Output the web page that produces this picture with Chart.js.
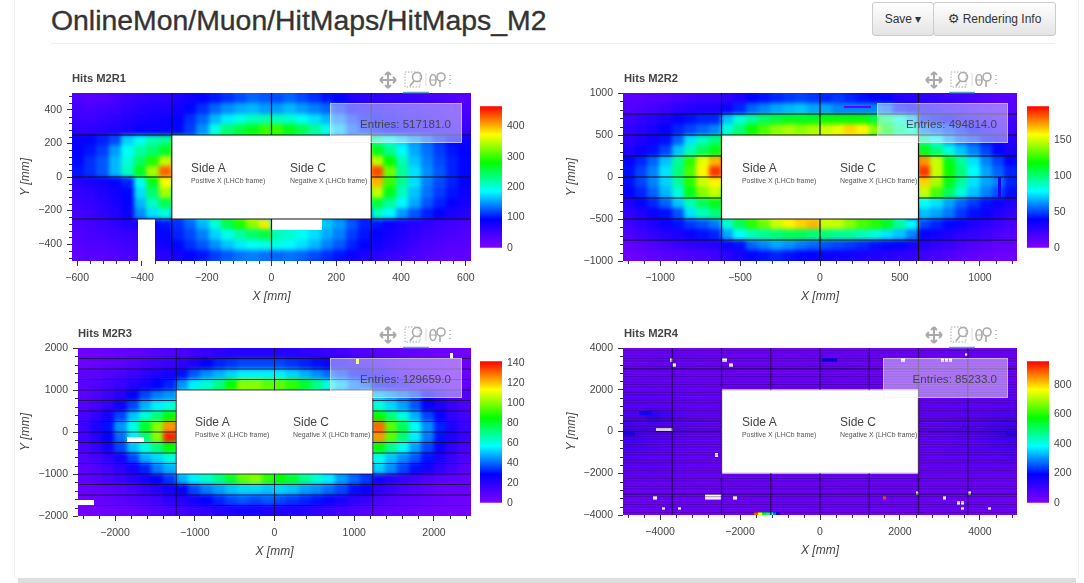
<!DOCTYPE html>
<html>
<head>
<meta charset="utf-8">
<script src="https://cdn.jsdelivr.net/npm/chart.js@4/dist/chart.umd.min.js"></script>
<style>
html, body { margin: 0; padding: 0; width: 1084px; height: 583px; overflow: hidden; background: #fff; }
body { font-family: "Liberation Sans", sans-serif; color: #444; position: relative; }
canvas { position: absolute; }
.abs { position: absolute; white-space: nowrap; }
#pageTitle { left: 51px; top: 2px; font-size: 28.4px; line-height: 36px; color: #333; -webkit-text-stroke: .35px #333; }
#rule { left: 51px; top: 43px; width: 1004px; height: 1px; background: #eee; }
#edgeL { left: 14px; top: 0; width: 1px; height: 578px; background: #eee; }
#edgeR { left: 1078px; top: 0; width: 1px; height: 578px; background: #eee; }
#edgeB { left: 18px; top: 578px; width: 1058px; height: 5px; background: #ddd; }
.btn { top: 2px; height: 32px; line-height: 32px; text-align: center; font-size: 12px; color: #333;
  border: 1px solid #ccc; border-radius: 3px; background: linear-gradient(#fff, #e4e4e4); box-sizing: content-box; }
.panelTitle { font-size: 11.2px; font-weight: bold; color: #444; }
.sideBig { font-size: 12px; color: #444; }
.sideSmall { font-size: 6.9px; color: #555; }
.entries { background: rgba(255,255,255,.45); border: 1px solid rgba(240,240,240,.5); box-sizing: border-box;
  text-align: right; padding-right: 10px; font-size: 11.6px; color: #444; }
</style>
</head>
<body>
<div class="abs" id="edgeL"></div>
<div class="abs" id="edgeR"></div>
<div class="abs" id="edgeB"></div>
<div class="abs" id="pageTitle">OnlineMon/Muon/HitMaps/HitMaps_M2</div>
<div class="abs" id="rule"></div>
<div class="abs btn" style="left:872px;width:60px">Save ▾</div>
<div class="abs btn" style="left:933px;width:121px"><span style="font-family:'DejaVu Sans';font-size:13px">⚙</span> Rendering Info</div>

<script>
const _ = null;

// R1 hit map, rows from top to bottom, 32 columns
const r1Values = [
[35,30,30,40,50,55,60,60,70,80,90,100,110,120,130,125,120,130,120,110,100,90,70,60,60,55,55,50,45,40,35,30],
[45,40,45,50,60,65,70,70,80,95,110,130,145,155,160,150,150,160,150,140,130,110,90,80,75,70,65,60,55,50,45,40],
[50,50,55,60,70,75,80,85,90,110,130,160,180,195,210,215,210,205,190,175,160,140,115,100,90,80,75,70,65,60,50,45],
[60,60,65,70,75,85,85,85,95,115,145,195,235,255,270,300,300,270,250,225,195,165,130,110,100,90,85,75,70,65,60,50],
[85,95,105,120,170,190,215,225,_,_,_,_,_,_,_,_,_,_,_,_,_,_,_,_,220,195,170,150,130,110,95,85],
[90,100,115,150,190,220,240,265,_,_,_,_,_,_,_,_,_,_,_,_,_,_,_,_,270,230,185,155,135,115,100,90],
[95,110,125,160,200,245,290,350,_,_,_,_,_,_,_,_,_,_,_,_,_,_,_,_,350,280,215,165,140,120,105,95],
[100,110,125,160,210,270,340,430,_,_,_,_,_,_,_,_,_,_,_,_,_,_,_,_,440,320,225,175,145,125,105,95],
[65,75,80,90,105,190,270,370,_,_,_,_,_,_,_,_,_,_,_,_,_,_,_,_,400,300,225,175,140,120,105,90],
[55,60,70,80,95,175,240,340,_,_,_,_,_,_,_,_,_,_,_,_,_,_,_,_,350,270,210,165,135,115,100,85],
[50,55,65,75,90,160,210,250,_,_,_,_,_,_,_,_,_,_,_,_,_,_,_,_,260,225,185,155,125,105,90,80],
[45,50,60,70,85,145,175,200,_,_,_,_,_,_,_,_,_,_,_,_,_,_,_,_,210,185,150,125,105,90,75,70],
[40,45,50,60,70,75,90,100,110,130,160,200,250,290,330,380,190,180,175,170,165,150,125,105,100,85,75,65,60,50,45,40],
[35,40,45,50,55,60,80,95,105,120,140,170,195,220,240,255,215,205,190,175,155,140,115,100,90,80,70,60,50,45,40,35],
[30,35,35,40,45,50,70,80,95,110,125,145,165,180,190,195,195,185,175,160,140,125,105,90,80,70,60,50,40,35,30,30],
[25,30,30,35,40,45,60,65,80,90,100,115,125,135,140,135,130,135,130,120,110,100,85,75,65,55,50,40,35,30,25,25]
];
const r1Missing = [[-410,-500,-360,-250],[0,-312,154,-250]];
const r1Patches = [];
const r1XLabels = [-600,-400,-200,0,200,400,600];
const r1YLabels = [-400,-200,0,200,400];
const r1BarLabels = [0,100,200,300,400];
const r1HLines = [-250,0,250];
const r1VLines = [-308,0,308];

const r2Values = [
[12,12,14,15,18,20,22,22,25,30,38,42,45,48,50,48,45,48,45,42,40,38,30,28,25,24,22,20,18,15,12,12],
[14,16,18,22,26,28,30,30,35,45,55,60,65,68,70,65,65,60,60,60,60,55,42,38,32,30,26,24,20,18,15,14],
[20,24,28,32,38,42,45,45,70,85,95,105,110,115,115,115,120,120,120,120,110,100,85,70,45,42,38,32,28,24,20,18],
[24,28,32,38,45,50,55,60,85,100,120,130,140,145,140,145,150,155,165,160,140,115,95,85,60,55,50,45,38,30,26,22],
[25,30,35,42,55,75,90,100,_,_,_,_,_,_,_,_,_,_,_,_,_,_,_,_,95,80,65,55,50,42,35,28],
[30,36,42,50,70,90,105,115,_,_,_,_,_,_,_,_,_,_,_,_,_,_,_,_,115,100,85,70,60,50,40,32],
[38,45,55,70,95,125,155,170,_,_,_,_,_,_,_,_,_,_,_,_,_,_,_,_,175,150,115,95,75,60,50,40],
[42,50,60,75,100,130,160,190,_,_,_,_,_,_,_,_,_,_,_,_,_,_,_,_,190,150,120,100,80,65,55,45],
[42,50,60,72,95,125,150,160,_,_,_,_,_,_,_,_,_,_,_,_,_,_,_,_,165,145,115,95,75,65,60,45],
[38,45,55,68,85,115,140,150,_,_,_,_,_,_,_,_,_,_,_,_,_,_,_,_,150,130,105,85,70,60,52,42],
[30,38,45,55,70,90,105,115,_,_,_,_,_,_,_,_,_,_,_,_,_,_,_,_,80,75,65,55,48,42,36,30],
[25,30,36,42,52,75,90,100,_,_,_,_,_,_,_,_,_,_,_,_,_,_,_,_,70,65,58,48,42,36,30,25],
[20,25,30,36,42,48,52,58,85,105,125,135,150,160,165,170,150,150,140,130,125,115,95,80,50,45,40,36,30,26,22,18],
[16,20,24,28,32,36,42,45,65,80,90,95,100,105,105,100,100,95,95,90,85,75,70,60,38,34,30,26,24,20,16,14],
[10,12,15,18,22,24,26,28,35,42,55,60,65,62,58,55,52,50,48,45,42,40,38,32,28,24,22,18,15,12,10,10],
[6,8,10,12,14,16,18,20,26,32,40,42,45,42,40,38,36,35,35,32,30,28,26,24,20,18,15,12,10,8,6,6]
];
const r2Missing = [];
const r2Patches = [[156,825,313,845,10],[1115,-230,1130,0,32]];
const r2XLabels = [-1000,-500,0,500,1000];
const r2YLabels = [-1000,-500,0,500,1000];
const r2BarLabels = [0,50,100,150];
const r2HLines = [-750,-500,-250,0,250,500,750];
const r2VLines = [-616,0,616];

const r3Values = [
[4,4,5,6,7,8,10,11,12,14,16,18,20,20,20,20,20,20,18,18,16,14,12,10,9,8,7,6,5,4,4,3],
[5,6,7,8,10,12,14,16,18,22,28,32,34,36,36,36,36,34,32,30,26,24,20,17,14,12,10,8,7,6,5,4],
[7,8,10,12,15,18,22,24,30,38,44,48,52,55,55,55,55,52,48,44,40,35,30,26,22,18,14,12,10,8,6,5],
[8,10,13,16,20,24,28,32,45,55,62,70,85,100,100,95,95,90,80,70,60,50,42,38,30,24,20,15,12,10,8,6],
[8,11,15,20,28,36,42,45,_,_,_,_,_,_,_,_,_,_,_,_,_,_,_,_,48,44,40,36,28,20,14,10],
[10,13,18,25,36,48,55,60,_,_,_,_,_,_,_,_,_,_,_,_,_,_,_,_,60,52,46,38,28,22,16,12],
[13,18,24,36,50,62,72,85,_,_,_,_,_,_,_,_,_,_,_,_,_,_,_,_,85,72,60,48,36,26,18,14],
[15,22,30,45,60,80,100,125,_,_,_,_,_,_,_,_,_,_,_,_,_,_,_,_,130,95,75,58,44,32,22,16],
[14,20,28,40,55,72,100,138,_,_,_,_,_,_,_,_,_,_,_,_,_,_,_,_,125,95,72,55,42,30,22,16],
[12,17,24,36,50,60,72,85,_,_,_,_,_,_,_,_,_,_,_,_,_,_,_,_,85,70,58,46,36,26,18,13],
[10,13,18,24,36,48,52,60,_,_,_,_,_,_,_,_,_,_,_,_,_,_,_,_,58,50,44,38,30,22,16,11],
[8,10,14,18,24,32,42,48,_,_,_,_,_,_,_,_,_,_,_,_,_,_,_,_,52,44,36,30,24,18,13,9],
[7,9,12,15,19,24,28,34,48,55,62,70,80,95,100,90,85,80,70,62,55,46,40,35,24,20,16,13,10,8,7,6],
[5,6,8,10,13,16,20,24,28,36,42,46,50,52,52,50,52,50,46,44,40,36,30,26,18,15,12,10,8,6,5,5],
[4,5,6,8,10,12,14,18,20,24,28,32,36,38,36,38,36,34,32,30,26,22,18,16,12,10,8,7,6,5,4,4],
[3,3,4,5,6,8,10,12,14,16,18,20,22,24,24,22,22,22,20,18,16,14,12,10,8,7,6,5,4,3,3,3]
];
const r3Missing = [[-1848,-230,-1647,-120],[-2464,-1740,-2274,-1625],[2205,1750,2235,1875]];
const r3Patches = [[1025,1625,1050,1750,110]];
const r3XLabels = [-2000,-1000,0,1000,2000];
const r3YLabels = [-2000,-1000,0,1000,2000];
const r3BarLabels = [0,20,40,60,80,100,120,140];
const r3HLines = [-1750,-1500,-1250,-1000,-750,-500,-250,0,250,500,750,1000,1250,1500,1750];
const r3VLines = [-1232,0,1232];

const r4Values = [
[25,25,25,28,28,28,26,25,25,25,25,25,25,25,25,26,28,30,28,26,25,25,25,25,25,25,25,25,25,25,25,25],
[30,32,35,35,32,30,28,28,25,25,25,26,26,25,26,28,30,32,30,28,26,25,25,25,25,25,25,25,26,26,26,26],
[32,32,34,34,32,30,28,28,26,26,25,25,25,25,26,26,28,28,28,26,26,26,26,25,26,26,28,28,28,28,28,28],
[35,36,38,36,34,32,30,30,28,28,28,28,28,28,28,28,28,28,28,28,28,28,28,28,28,28,30,30,32,32,32,32],
[50,48,45,42,40,38,36,34,_,_,_,_,_,_,_,_,_,_,_,_,_,_,_,_,34,36,38,40,40,42,44,46],
[58,55,50,48,42,40,38,36,_,_,_,_,_,_,_,_,_,_,_,_,_,_,_,_,38,40,42,46,42,44,48,52],
[70,70,120,90,60,48,42,40,_,_,_,_,_,_,_,_,_,_,_,_,_,_,_,_,42,46,50,50,52,60,68,72],
[80,70,68,60,55,50,45,42,_,_,_,_,_,_,_,_,_,_,_,_,_,_,_,_,42,48,54,60,60,70,85,95],
[95,85,72,60,52,48,44,42,_,_,_,_,_,_,_,_,_,_,_,_,_,_,_,_,42,46,52,58,62,72,90,100],
[80,70,62,54,48,44,42,40,_,_,_,_,_,_,_,_,_,_,_,_,_,_,_,_,40,44,48,52,56,64,72,80],
[60,54,48,44,40,38,38,36,_,_,_,_,_,_,_,_,_,_,_,_,_,_,_,_,36,38,40,42,46,50,55,60],
[48,46,50,46,38,34,32,32,_,_,_,_,_,_,_,_,_,_,_,_,_,_,_,_,32,34,36,38,40,42,44,46],
[34,36,38,36,32,30,28,28,30,30,30,32,32,32,32,32,30,30,28,28,28,28,28,28,28,28,28,30,30,30,30,30],
[30,30,30,30,28,28,26,26,28,28,28,30,30,30,30,30,28,28,26,26,26,26,26,26,26,26,26,26,26,26,26,26],
[26,26,26,26,26,26,26,25,25,25,26,26,28,28,28,28,26,26,26,26,26,25,25,25,25,25,25,25,25,25,25,25],
[24,24,24,24,24,24,24,24,24,24,26,26,28,28,28,26,26,24,24,24,24,24,24,24,24,24,24,24,24,24,24,24]
];
const r4Missing = [[-3750,3375,-3690,3500],[-3680,3125,-3620,3250],[-2450,3375,-2350,3500],[-2260,3125,-2200,3250],
  [2050,3375,2110,3500],[3045,3375,3095,3500],[3135,3375,3185,3500],[3245,3375,3295,3500],[3635,3625,3690,3750],
  [-4100,32,-3700,157],[-2610,-1180,-2560,-1060],[-2870,-3250,-2470,-3030],[-4155,-3250,-4100,-3125],[-2155,-3250,-2100,-3125],
  [-3945,-3750,-3895,-3625],[-3535,-3750,-3485,-3625],[2410,-3000,2460,-2875],[3705,-3000,3755,-2875],[3085,-3250,3135,-3125],
  [3435,-3500,3485,-3375],[3535,-3500,3585,-3375],[3535,-3750,3585,-3625],[4212,-3750,4262,-3625]];
const r4Patches = [[75,3375,408,3500,180],[-4510,812,-4220,937,170],[-4928,-187,-4640,-62,150],[4660,-187,4928,-62,130],
  [1595,-3250,1645,-3125,900],[-1650,-4000,-1530,-3875,900],[-1530,-4000,-1450,-3875,760],[-1450,-4000,-1330,-3875,560],
  [-1330,-4000,-1250,-3875,500],[-1250,-4000,-1170,-3875,400],[-1170,-4000,-1090,-3875,280],[-1090,-4000,-1010,-3875,170]];
const r4XLabels = [-4000,-2000,0,2000,4000];
const r4YLabels = [-4000,-2000,0,2000,4000];
const r4BarLabels = [0,200,400,600,800];
const r4HLines = [-3875,-3750,-3625,-3500,-3375,-3250,-3125,-2875,-2750,-2625,-2500,-2375,-2250,-2125,-2000,-1875,-1750,-1625,-1500,-1375,-1250,-1125,-1000,-875,-750,-625,-500,-375,-250,-125,125,250,375,625,750,875,1000,1125,1250,1375,1500,1625,1750,1875,2000,2125,2250,2375,2500,2625,2750,2875,3125,3250,3375,3500,3625,3750,3875];
const r4StrongLines = [-3000,0,500,3000];
const r4VLines = [-3696,-2464,-1232,0,1232,2464,3696];

const paletteStops = [[0,'#8000ff'],[.2,'#0000ff'],[.4,'#00ffff'],[.6,'#00ff00'],[.8,'#ffff00'],[1,'#ff0000']];

function colorFor(f) {
    f = Math.max(0, Math.min(1, f));
    for (let i = 1; i < paletteStops.length; i++) {
        if (f <= paletteStops[i][0]) {
            const [f0, c0] = paletteStops[i - 1];
            const [f1, c1] = paletteStops[i];
            const k = (f - f0) / (f1 - f0);
            const ch = n => Math.round(parseInt(c0.substr(n, 2), 16) * (1 - k) + parseInt(c1.substr(n, 2), 16) * k);
            return `rgb(${ch(1)},${ch(3)},${ch(5)})`;
        }
    }
    return '#ff0000';
}

// paints the cell rectangles from the dataset points, through the chart scales
const heatCells = {
    id: 'heatCells',
    beforeDatasetsDraw(chart, args, opts) {
        const { ctx, chartArea: area, scales: { x, y } } = chart;
        const rect = (c, x0, y0, x1, y1) => {
            const l = Math.floor(x.getPixelForValue(x0)), r = Math.ceil(x.getPixelForValue(x1));
            const t = Math.floor(y.getPixelForValue(y1)), b = Math.ceil(y.getPixelForValue(y0));
            c.fillRect(l, t, r - l, b - t);
        };

        // cells go on a spare canvas first, the blur softens the coarse grid
        const off = document.createElement('canvas');
        off.width = chart.canvas.width;
        off.height = chart.canvas.height;
        const o = off.getContext('2d');
        const cells = chart.data.datasets[0].data;
        cells.forEach(p => {
            o.fillStyle = colorFor(p.v / opts.max);
            rect(o, p.x - p.w * 1.5, p.y - p.h * 1.5, p.x + p.w * 1.5, p.y + p.h * 1.5);
        });
        cells.forEach(p => {
            o.fillStyle = colorFor(p.v / opts.max);
            rect(o, p.x - p.w / 2, p.y - p.h / 2, p.x + p.w / 2, p.y + p.h / 2);
        });

        ctx.save();
        ctx.beginPath();
        ctx.rect(area.left, area.top, area.width, area.height);
        ctx.clip();
        ctx.filter = `blur(${opts.blur}px)`;
        ctx.drawImage(off, 0, 0);
        ctx.filter = 'none';
        opts.patches.forEach(m => {
            ctx.fillStyle = colorFor(m[4] / opts.max);
            rect(ctx, m[0], m[1], m[2], m[3]);
        });
        ctx.fillStyle = '#fff';
        opts.missing.forEach(m => rect(ctx, m[0], m[1], m[2], m[3]));
        rect(ctx, -opts.holeX, -opts.holeY, opts.holeX, opts.holeY);
        ctx.restore();
    },
    afterDraw(chart) {
        // shorter minor ticks
        const { ctx, chartArea: area, scales: { x, y } } = chart;
        ctx.save();
        ctx.strokeStyle = '#333';
        ctx.lineWidth = 1;
        ctx.beginPath();
        x.ticks.forEach(t => {
            if (!t.major) {
                const px = Math.round(x.getPixelForValue(t.value)) + .5;
                ctx.moveTo(px, area.bottom);
                ctx.lineTo(px, area.bottom + 3);
            }
        });
        y.ticks.forEach(t => {
            if (!t.major) {
                const py = Math.round(y.getPixelForValue(t.value)) + .5;
                ctx.moveTo(area.left, py);
                ctx.lineTo(area.left - 3, py);
            }
        });
        ctx.stroke();
        ctx.restore();
    }
};

function buildCells(values, xMax, yMax) {
    const rows = values.length, cols = values[0].length;
    const w = 2 * xMax / cols, h = 2 * yMax / rows;
    const out = [];
    values.forEach((row, r) => row.forEach((v, c) => {
        if (v !== null) out.push({ x: -xMax + (c + .5) * w, y: yMax - (r + .5) * h, w, h, v });
    }));
    return out;
}

function buildLines(hLines, vLines, xMax, yMax) {
    const holeX = xMax / 2, holeY = yMax / 2;
    const out = [];
    const seg = (x0, y0, x1, y1) => out.push({ x: x0, y: y0 }, { x: x1, y: y1 }, { x: NaN, y: NaN });
    hLines.forEach(v => {
        if (Math.abs(v) < holeY) {
            seg(-xMax, v, -holeX, v);
            seg(holeX, v, xMax, v);
        } else seg(-xMax, v, xMax, v);
    });
    vLines.forEach(v => {
        if (Math.abs(v) < holeX) {
            seg(v, -yMax, v, -holeY);
            seg(v, holeY, v, yMax);
        } else seg(v, -yMax, v, yMax);
    });
    return out;
}

const minus = v => String(v).replace('-', '\u2212');

function tickList(max, step) {
    const out = [];
    for (let v = -Math.floor(max / step) * step; v <= max; v += step) out.push(v);
    return out;
}

function axisOptions(title, max, step, labels, size, isX) {
    return {
        type: 'linear',
        min: -max,
        max: max,
        afterBuildTicks: axis => {
            axis.ticks = tickList(max, step).map(v => ({ value: v, major: labels.includes(v) }));
        },
        afterFit: axis => { if (isX) axis.height = size; else axis.width = size; },
        ticks: {
            autoSkip: false,
            maxRotation: 0,
            padding: isX ? 6 : 5,
            color: '#444',
            font: { family: 'Liberation Sans', size: 10.5 },
            callback: v => labels.includes(v) ? minus(v) : ''
        },
        grid: {
            drawOnChartArea: false,
            tickLength: 5,
            tickColor: c => (c.tick && c.tick.major) ? '#333' : 'transparent'
        },
        border: { display: false },
        title: {
            display: true,
            text: title,
            color: '#444',
            padding: 0,
            font: { family: 'Liberation Sans', size: 12, style: 'italic' }
        }
    };
}

function addPanel(p) {
    const c = document.createElement('canvas');
    const padL = p.yAxisW, padT = 12, padR = 12, padB = 43;
    c.width = p.w + padL + padR;
    c.height = p.h + padT + padB;
    c.style.left = (p.left - padL) + 'px';
    c.style.top = (p.top - padT) + 'px';
    document.body.appendChild(c);

    const lineSets = p.lines.map(s => ({
        data: buildLines(s.h, s.v, p.xMax, p.yMax),
        showLine: true, spanGaps: false, pointRadius: 0,
        borderColor: s.color, borderWidth: s.width
    }));

    new Chart(c.getContext('2d'), {
        type: 'scatter',
        data: {
            datasets: [{ data: buildCells(p.values, p.xMax, p.yMax), pointRadius: 0, pointHoverRadius: 0 }].concat(lineSets)
        },
        plugins: [heatCells],
        options: {
            responsive: false,
            animation: false,
            layout: { padding: { top: padT, right: padR } },
            plugins: {
                legend: { display: false },
                tooltip: { enabled: false },
                heatCells: { max: p.max, patches: p.patches, missing: p.missing, blur: p.blur, holeX: p.xMax / 2, holeY: p.yMax / 2 }
            },
            scales: {
                x: axisOptions('X [mm]', p.xMax, p.xStep, p.xLabels, padB, true),
                y: axisOptions('Y [mm]', p.yMax, p.yStep, p.yLabels, padL, false)
            }
        }
    });

    // colour bar is its own little bar chart
    const b = document.createElement('canvas');
    b.width = 62;
    b.height = p.barH + 16;
    b.style.left = p.barLeft + 'px';
    b.style.top = (p.barTop - 8) + 'px';
    document.body.appendChild(b);
    new Chart(b.getContext('2d'), {
        type: 'bar',
        data: {
            labels: [''],
            datasets: [{
                data: [[0, p.max]],
                barPercentage: 1,
                categoryPercentage: 1,
                backgroundColor: ctx => {
                    const area = ctx.chart.chartArea;
                    if (!area) return '#000';
                    const g = ctx.chart.ctx.createLinearGradient(0, area.bottom, 0, area.top);
                    paletteStops.forEach(s => g.addColorStop(s[0], s[1]));
                    return g;
                }
            }]
        },
        options: {
            responsive: false,
            animation: false,
            layout: { padding: { top: 8, bottom: 8 } },
            plugins: { legend: { display: false }, tooltip: { enabled: false } },
            scales: {
                x: { display: false },
                y: {
                    position: 'right',
                    min: 0,
                    max: p.max,
                    afterBuildTicks: axis => { axis.ticks = p.barLabels.map(v => ({ value: v })); },
                    afterFit: axis => { axis.width = 40; },
                    ticks: { padding: 5, color: '#444', font: { family: 'Liberation Sans', size: 10.5 } },
                    grid: { display: false, drawTicks: false },
                    border: { display: false }
                }
            }
        }
    });

    const right = p.left + p.w;
    addDiv('panelTitle', p.titleLeft, p.top - 21, p.title);
    addDiv('sideBig', p.left + p.sideA, p.sideY - 8, 'Side A');
    addDiv('sideBig', p.left + p.sideC, p.sideY - 8, 'Side C');
    addDiv('sideSmall', p.left + p.sideA, p.sideY + 8, 'Positive X (LHCb frame)');
    addDiv('sideSmall', p.left + p.sideC, p.sideY + 8, 'Negative X (LHCb frame)');

    const box = addDiv('entries', p.boxLeft, p.top + 10, p.entries);
    box.style.width = (right - 9 - p.boxLeft) + 'px';
    box.style.height = '40px';
    box.style.lineHeight = '39px';

    const tools = document.createElement('div');
    tools.className = 'abs';
    tools.style.left = (right - 100) + 'px';
    tools.style.top = (p.top - 24) + 'px';
    tools.innerHTML = `<svg width="90" height="26" fill="none" stroke="#aaa" stroke-width="1.6">
      <path d="M17 3v16M9 11h16M17 3l-3 3M17 3l3 3M17 19l-3-3M17 19l3-3M9 11l3-3M9 11l3 3M25 11l-3-3M25 11l-3 3" stroke-width="2"/>
      <rect x="34" y="3" width="15" height="15" stroke-dasharray="1.5 1.5" stroke-width="1"/>
      <circle cx="46" cy="8" r="4.5"/><path d="M43 12l-4 5"/>
      <path d="M55 4v13" stroke="#ddd" stroke-width="1"/>
      <ellipse cx="62" cy="11" rx="3" ry="5.5"/><path d="M59 11h6" stroke-width="1"/>
      <circle cx="70" cy="8" r="4"/><path d="M69 12v6"/>
      <path d="M79 6v1M79 10v1M79 14v1" stroke-width="1.5"/>
      <path d="M32 23.500h26" stroke="#5aa9bb" stroke-width="1.500"/></svg>`;
    document.body.appendChild(tools);
}

function addDiv(cls, left, top, text) {
    const d = document.createElement('div');
    d.className = 'abs ' + cls;
    d.style.left = left + 'px';
    d.style.top = top + 'px';
    d.style.zIndex = 3;
    d.textContent = text;
    document.body.appendChild(d);
    return d;
}

addPanel({ title: 'Hits M2R1', titleLeft: 72, left: 72, top: 93, w: 399, h: 168, yAxisW: 54,
    xMax: 616, yMax: 500, xStep: 40, yStep: 40, max: 466, values: r1Values, missing: r1Missing, patches: r1Patches, blur: 2,
    xLabels: r1XLabels, yLabels: r1YLabels, barLabels: r1BarLabels,
    lines: [{ h: r1HLines, v: r1VLines, color: '#111', width: 1.2 }],
    barLeft: 480, barTop: 103, barH: 148,
    sideA: 119, sideC: 218, sideY: 169, boxLeft: 330, entries: 'Entries: 517181.0' });
addPanel({ title: 'Hits M2R2', titleLeft: 624, left: 623, top: 93, w: 394, h: 168, yAxisW: 59,
    xMax: 1232, yMax: 1000, xStep: 100, yStep: 100, max: 198, values: r2Values, missing: r2Missing, patches: r2Patches, blur: 2,
    xLabels: r2XLabels, yLabels: r2YLabels, barLabels: r2BarLabels,
    lines: [{ h: r2HLines, v: r2VLines, color: '#111', width: 1.2 }],
    barLeft: 1027, barTop: 103, barH: 148,
    sideA: 119, sideC: 217, sideY: 169, boxLeft: 877, entries: 'Entries: 494814.0' });
addPanel({ title: 'Hits M2R3', titleLeft: 78, left: 78, top: 348, w: 393, h: 168, yAxisW: 60,
    xMax: 2464, yMax: 2000, xStep: 200, yStep: 200, max: 141.6, values: r3Values, missing: r3Missing, patches: r3Patches, blur: 2,
    xLabels: r3XLabels, yLabels: r3YLabels, barLabels: r3BarLabels,
    lines: [{ h: r3HLines, v: r3VLines, color: 'rgba(20,10,40,.8)', width: 1 }],
    barLeft: 480, barTop: 358, barH: 148,
    sideA: 117, sideC: 215, sideY: 423, boxLeft: 330, entries: 'Entries: 129659.0' });
addPanel({ title: 'Hits M2R4', titleLeft: 624, left: 623, top: 348, w: 394, h: 167, yAxisW: 59,
    xMax: 4928, yMax: 4000, xStep: 400, yStep: 400, max: 960, values: r4Values, missing: r4Missing, patches: r4Patches, blur: 2,
    xLabels: r4XLabels, yLabels: r4YLabels, barLabels: r4BarLabels,
    lines: [{ h: r4HLines, v: [], color: 'rgba(40,0,90,.45)', width: 1 },
            { h: r4StrongLines, v: r4VLines, color: 'rgba(30,0,60,.8)', width: 1.3 }],
    barLeft: 1027, barTop: 358, barH: 148,
    sideA: 119, sideC: 217, sideY: 423, boxLeft: 883, entries: 'Entries: 85233.0' });
</script>
</body>
</html>
